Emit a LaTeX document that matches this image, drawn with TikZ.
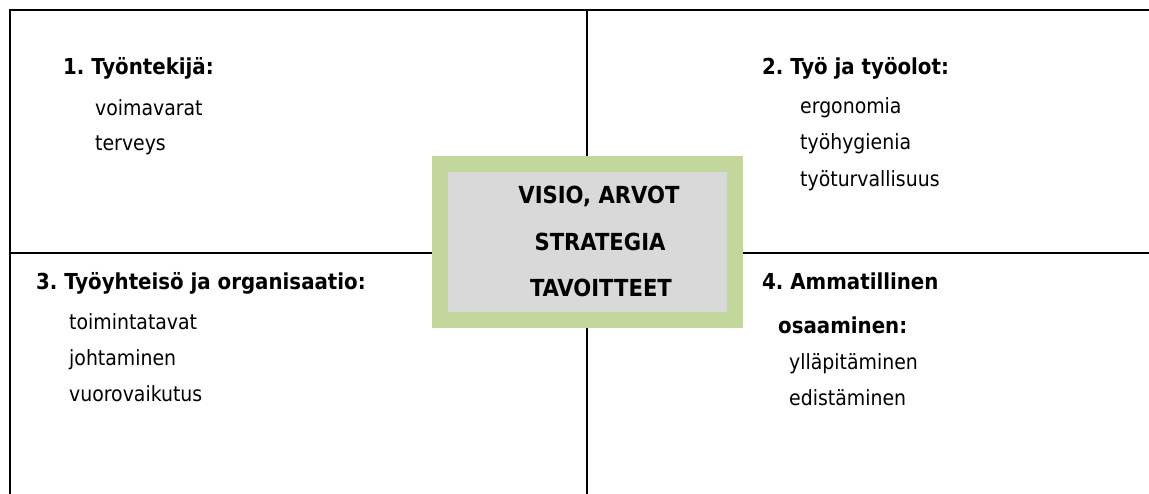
\documentclass[tikz,border=0pt]{standalone}
\usepackage{fontspec}
\setmainfont{DejaVu Sans Condensed}
\definecolor{boxgreen}{HTML}{C3D69B}
\definecolor{boxgrey}{HTML}{D9D9D9}
\begin{document}
\frenchspacing
\begin{tikzpicture}[x=1pt,y=-1pt,
  gridline/.style={line width=2pt},
  head/.style={anchor=base west,inner sep=0pt,font=\fontsize{22}{26}\selectfont\bfseries},
  item/.style={anchor=base west,inner sep=0pt,font=\fontsize{21}{25}\selectfont},
  core/.style={anchor=base,inner sep=0pt,font=\fontsize{23.5}{28}\selectfont\bfseries}]
\useasboundingbox (0,0) rectangle (1149,494);
% frame lines
\coordinate (bl) at (10,494);
\coordinate (tl) at (10,10.5);
\coordinate (tr) at (1149,10.5);
\coordinate (mt) at (586.5,10.5);
\coordinate (mb) at (586.5,494);
\coordinate (ml) at (10,253.5);
\coordinate (mr) at (1149,253.5);
\draw[gridline] (bl) -- (tl) -- (tr);
\draw[gridline] (mt) -- (mb);
\draw[gridline] (ml) -- (mr);
% centre box
\fill[boxgreen] (432,156) rectangle (743,328);
\fill[boxgrey] (448,172) rectangle (727,312);
\node[core] (c1) at (599,204) {VISIO, ARVOT};
\node[core] (c2) at (600,251) {STRATEGIA};
\node[core] (c3) at (601,297) {TAVOITTEET};
% quadrant 1
\node[head] (h1) at (63,75) {1. Työntekijä:};
\node[item] (i11) at (95,115.5) {voimavarat};
\node[item] (i12) at (95,150.5) {terveys};
% quadrant 2
\node[head] (h2) at (762,75) {2. Työ ja työolot:};
\node[item] (i21) at (800,114) {ergonomia};
\node[item] (i22) at (800,150) {työhygienia};
\node[item] (i23) at (800,186.5) {työturvallisuus};
% quadrant 3
\node[head] (h3) at (36,290) {3. Työyhteisö ja organisaatio:};
\node[item] (i31) at (69,330) {toimintatavat};
\node[item] (i32) at (69,366) {johtaminen};
\node[item] (i33) at (69,401) {vuorovaikutus};
% quadrant 4
\node[head] (h4) at (762,290) {4. Ammatillinen};
\node[head] (h4b) at (778,334) {osaaminen:};
\node[item] (i41) at (789,369.5) {ylläpitäminen};
\node[item] (i42) at (789,405.5) {edistäminen};
\end{tikzpicture}
\end{document}
